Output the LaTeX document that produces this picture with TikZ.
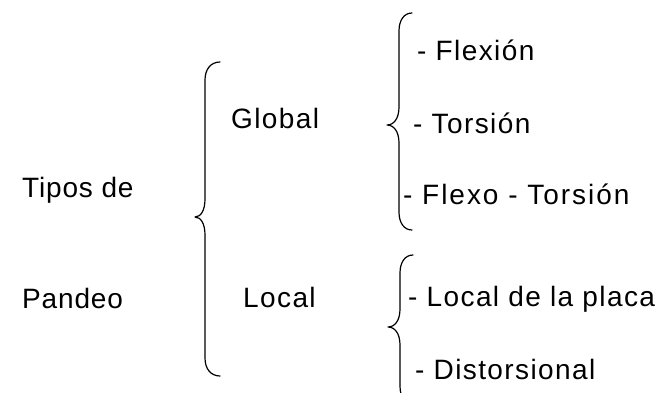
\documentclass[tikz,border=0pt]{standalone}
\usepackage{fontspec}
\setmainfont{Liberation Sans}
\newcommand{\drawbrace}[6]{%
  % #1 = x of the stem, #2 = top, #3 = tip, #4 = bottom,
  % #5 = width of the end curls, #6 = depth of the tip
  \draw[bracestroke] (#1+#5,#2) .. controls (#1+0.4*#5,#2) and (#1,#2+7) .. (#1,#2+18)
    -- (#1,#3-18) .. controls (#1,#3-7) and (#1-0.4*#6,#3) .. (#1-#6,#3)
    .. controls (#1-0.4*#6,#3) and (#1,#3+7) .. (#1,#3+18)
    -- (#1,#4-18) .. controls (#1,#4-7) and (#1+0.4*#5,#4) .. (#1+#5,#4);}
\tikzset{
  bracestroke/.style={line width=1.2pt, black, line cap=round, line join=round},
  label/.style={inner sep=0pt, anchor=base west,
    font=\fontsize{28}{34}\selectfont\addfontfeature{LetterSpace=5}},
  rootlabel/.style={label,
    font=\fontsize{28}{34}\selectfont\addfontfeature{LetterSpace=3}},
  widelabel/.style={label,
    font=\fontsize{28}{34}\selectfont\addfontfeature{LetterSpace=7}}
}
\begin{document}
\begin{tikzpicture}[x=1pt, y=-1pt]
  \useasboundingbox (0,0) rectangle (670,392);
  \clip (0,0) rectangle (670,392);

  % root label
  \node[rootlabel] (tipos) at (22,197) {Tipos de};
  \node[rootlabel] (pandeo) at (22,308) {Pandeo};

  % first level
  \drawbrace{205}{62}{217}{376}{15}{10}
  \node[label] (global) at (231,128) {Global};
  \node[label] (local) at (243,307) {Local};

  % global buckling modes
  \drawbrace{399}{13}{125}{230}{13}{12}
  \node[label] (flexion) at (417,60) {- Flexión};
  \node[label] (torsion) at (413,133) {- Torsión};
  \node[widelabel] (flexotorsion) at (403,204) {- Flexo - Torsión};

  % local buckling modes
  \drawbrace{400}{255}{327}{404}{13}{12}
  \node[label] (placa) at (408,306) {- Local de la placa};
  \node[label] (distorsional) at (415,379) {- Distorsional};
\end{tikzpicture}
\end{document}
